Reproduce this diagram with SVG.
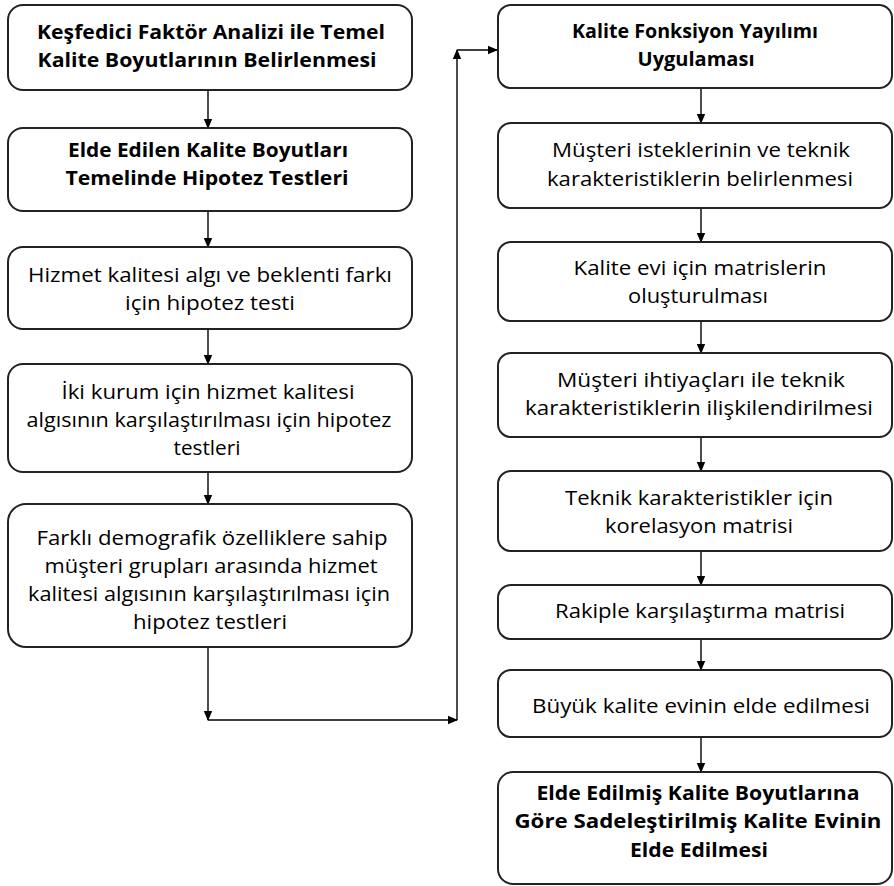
<svg xmlns="http://www.w3.org/2000/svg" width="894" height="886" viewBox="0 0 894 886">
<defs>
<marker id="ah" markerWidth="10" markerHeight="10" refX="9" refY="5" orient="auto" markerUnits="userSpaceOnUse">
<path d="M0,0.8 L10,5 L0,9.2 Z" fill="#000"/>
</marker>
<style>
.box{fill:#fff;stroke:#222;stroke-width:2}
.t{font-family:"Open Sans","Noto Sans",sans-serif;font-size:20px;fill:#000;text-anchor:middle}
.b{font-weight:bold}
.c{fill:none;stroke:#000;stroke-width:1.4;marker-end:url(#ah)}
</style>
</defs>
<rect width="894" height="886" fill="#fff"/>
<g id="connectors">
<path class="c" d="M208,90 V128"/>
<path class="c" d="M208,211 V247"/>
<path class="c" d="M208,329 V364"/>
<path class="c" d="M208,472 V504"/>
<path class="c" d="M208,647 V720"/>
<path class="c" d="M208,720 H457"/>
<path class="c" d="M457,720 V50"/>
<path class="c" d="M457,50 H497"/>
<path class="c" d="M701,88 V123"/>
<path class="c" d="M701,208 V242"/>
<path class="c" d="M701,321 V353"/>
<path class="c" d="M701,437 V471"/>
<path class="c" d="M701,551 V585"/>
<path class="c" d="M701,639 V670"/>
<path class="c" d="M701,737 V772"/>
</g>
<g id="n1">
<rect class="box" x="8" y="5" width="404" height="85" rx="15"/>
<text class="t b" x="211" y="39" textLength="348" lengthAdjust="spacingAndGlyphs">Keşfedici Faktör Analizi ile Temel</text>
<text class="t b" x="207" y="67" textLength="339" lengthAdjust="spacingAndGlyphs">Kalite Boyutlarının Belirlenmesi</text>
</g>
<g id="n2">
<rect class="box" x="8" y="128" width="404" height="83" rx="15"/>
<text class="t b" x="208" y="157" textLength="280" lengthAdjust="spacingAndGlyphs">Elde Edilen Kalite Boyutları</text>
<text class="t b" x="207" y="185" textLength="283" lengthAdjust="spacingAndGlyphs">Temelinde Hipotez Testleri</text>
</g>
<g id="n3">
<rect class="box" x="8" y="247" width="404" height="82" rx="15"/>
<text class="t" x="210" y="282" textLength="364" lengthAdjust="spacingAndGlyphs">Hizmet kalitesi algı ve beklenti farkı</text>
<text class="t" x="210" y="310" textLength="170" lengthAdjust="spacingAndGlyphs">için hipotez testi</text>
</g>
<g id="n4">
<rect class="box" x="8" y="364" width="404" height="108" rx="15"/>
<text class="t" x="208" y="399" textLength="293" lengthAdjust="spacingAndGlyphs">İki kurum için hizmet kalitesi</text>
<text class="t" x="209" y="427" textLength="365" lengthAdjust="spacingAndGlyphs">algısının karşılaştırılması için hipotez</text>
<text class="t" x="207" y="455" textLength="67" lengthAdjust="spacingAndGlyphs">testleri</text>
</g>
<g id="n5">
<rect class="box" x="8" y="504" width="404" height="143" rx="18"/>
<text class="t" x="212" y="545" textLength="351" lengthAdjust="spacingAndGlyphs">Farklı demografik özelliklere sahip</text>
<text class="t" x="211" y="573" textLength="333" lengthAdjust="spacingAndGlyphs">müşteri grupları arasında hizmet</text>
<text class="t" x="209" y="601" textLength="362" lengthAdjust="spacingAndGlyphs">kalitesi algısının karşılaştırılması için</text>
<text class="t" x="210" y="629" textLength="154" lengthAdjust="spacingAndGlyphs">hipotez testleri</text>
</g>
<g id="r1">
<rect class="box" x="498" y="5" width="394" height="83" rx="13"/>
<text class="t b" x="695" y="38" textLength="246" lengthAdjust="spacingAndGlyphs">Kalite Fonksiyon Yayılımı</text>
<text class="t b" x="696" y="66" textLength="117" lengthAdjust="spacingAndGlyphs">Uygulaması</text>
</g>
<g id="r2">
<rect class="box" x="498" y="123" width="394" height="85" rx="13"/>
<text class="t" x="701" y="157" textLength="298" lengthAdjust="spacingAndGlyphs">Müşteri isteklerinin ve teknik</text>
<text class="t" x="700" y="186" textLength="306" lengthAdjust="spacingAndGlyphs">karakteristiklerin belirlenmesi</text>
</g>
<g id="r3">
<rect class="box" x="498" y="242" width="394" height="79" rx="13"/>
<text class="t" x="700" y="275" textLength="253" lengthAdjust="spacingAndGlyphs">Kalite evi için matrislerin</text>
<text class="t" x="698" y="303" textLength="140" lengthAdjust="spacingAndGlyphs">oluşturulması</text>
</g>
<g id="r4">
<rect class="box" x="498" y="353" width="394" height="84" rx="13"/>
<text class="t" x="701" y="387" textLength="288" lengthAdjust="spacingAndGlyphs">Müşteri ihtiyaçları ile teknik</text>
<text class="t" x="699" y="415" textLength="348" lengthAdjust="spacingAndGlyphs">karakteristiklerin ilişkilendirilmesi</text>
</g>
<g id="r5">
<rect class="box" x="498" y="471" width="394" height="80" rx="13"/>
<text class="t" x="699" y="505" textLength="268" lengthAdjust="spacingAndGlyphs">Teknik karakteristikler için</text>
<text class="t" x="699" y="533" textLength="188" lengthAdjust="spacingAndGlyphs">korelasyon matrisi</text>
</g>
<g id="r6">
<rect class="box" x="498" y="585" width="394" height="54" rx="13"/>
<text class="t" x="700" y="618" textLength="290" lengthAdjust="spacingAndGlyphs">Rakiple karşılaştırma matrisi</text>
</g>
<g id="r7">
<rect class="box" x="498" y="670" width="394" height="67" rx="13"/>
<text class="t" x="701" y="713" textLength="338" lengthAdjust="spacingAndGlyphs">Büyük kalite evinin elde edilmesi</text>
</g>
<g id="r8">
<rect class="box" x="498" y="772" width="394" height="112" rx="15"/>
<text class="t b" x="698" y="800" textLength="323" lengthAdjust="spacingAndGlyphs">Elde Edilmiş Kalite Boyutlarına</text>
<text class="t b" x="698" y="828" textLength="367" lengthAdjust="spacingAndGlyphs">Göre Sadeleştirilmiş Kalite Evinin</text>
<text class="t b" x="699" y="857" textLength="138" lengthAdjust="spacingAndGlyphs">Elde Edilmesi</text>
</g>
</svg>
